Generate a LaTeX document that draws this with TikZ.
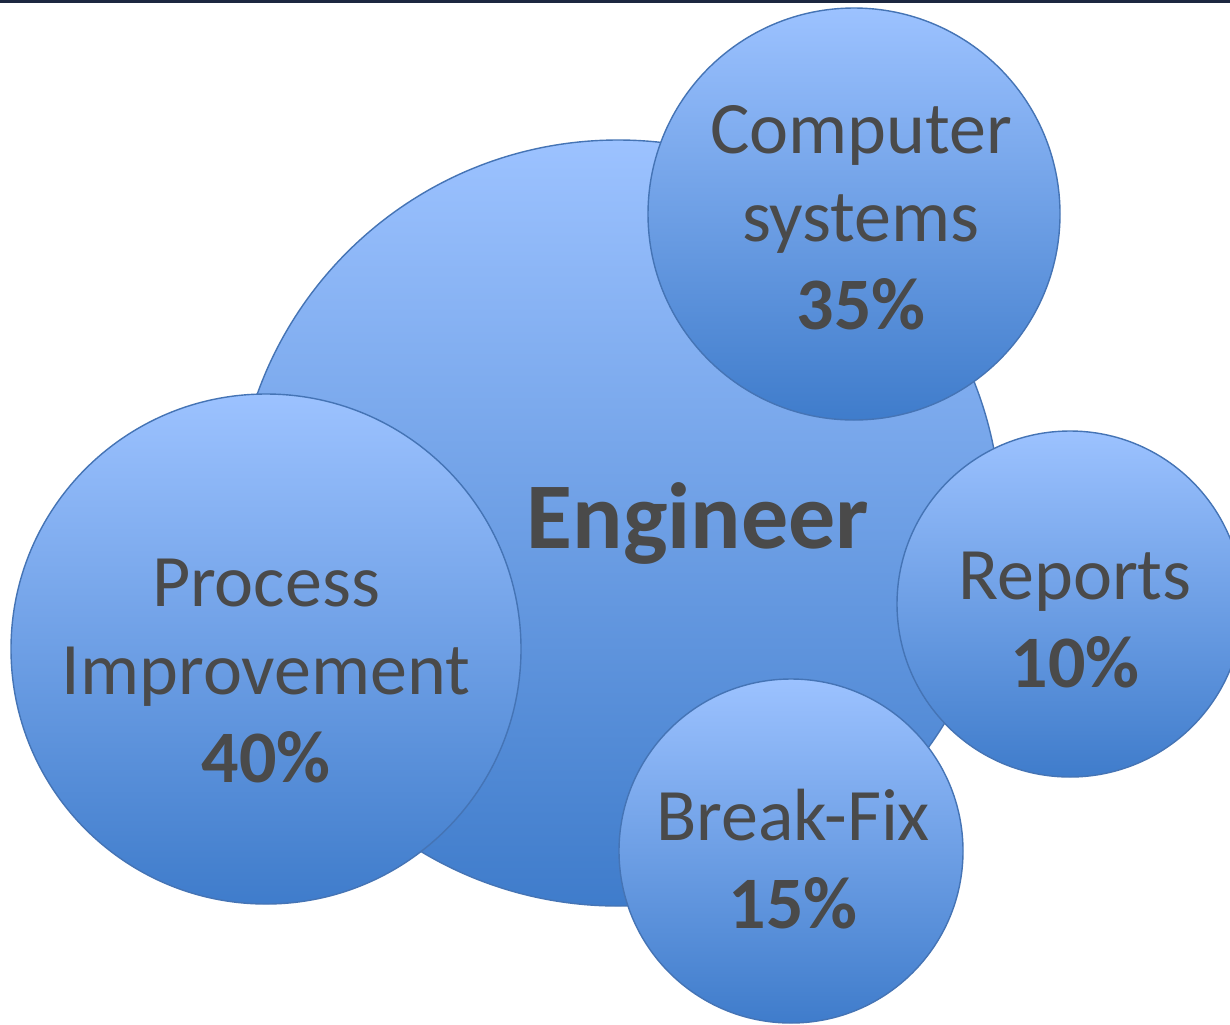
\documentclass[tikz,border=0pt]{standalone}
\usepackage{fontspec}
\setmainfont{Carlito}
\usepackage{tikz}
\definecolor{bubtop}{HTML}{9CC2FF}
\definecolor{bubbot}{HTML}{3F7CCB}
\definecolor{bubline}{HTML}{4574B5}
\definecolor{txtgray}{HTML}{4A4A4A}
\definecolor{topbar}{HTML}{1C2740}
\tikzset{
  bubble/.style={circle, draw=bubline, line width=0.7pt, top color=bubtop, bottom color=bubbot, inner sep=0pt},
  bubtext/.style={text=txtgray, align=center, inner sep=0pt, font=\fontsize{37}{44}\selectfont}
}

\begin{document}
\begin{tikzpicture}[x=0.5pt,y=-0.5pt]
\useasboundingbox (0,0) rectangle (1230,1024);
\clip (0,0) rectangle (1230,1024);
\fill[white] (0,0) rectangle (1230,1024);
% circles
\node[bubble, minimum size=383pt] (eng) at (618,523) {};
\node[bubble, minimum size=255pt] (proc) at (266,649) {};
\node[bubble, minimum size=206pt] (comp) at (854,214) {};
\node[bubble, minimum size=173pt] (rep) at (1070,604) {};
\node[bubble, minimum size=172pt] (fix) at (791,851) {};
% labels
\node[bubtext, font=\fontsize{47}{56}\selectfont\bfseries] (engtxt) at (698,523) {Engineer};
\node[bubtext] (proctxt) at (266,671) {Process\\Improvement\\\textbf{40\%}};
\node[bubtext] (comptxt) at (861,218) {Computer\\systems\\\textbf{35\%}};
\node[bubtext] (reptxt) at (1075,620) {Reports\\\textbf{10\%}};
\node[bubtext] (fixtxt) at (793,859) {Break-Fix\\\textbf{15\%}};
% top rule
\fill[topbar] (0,0) rectangle (1230,3);
\end{tikzpicture}
\end{document}
